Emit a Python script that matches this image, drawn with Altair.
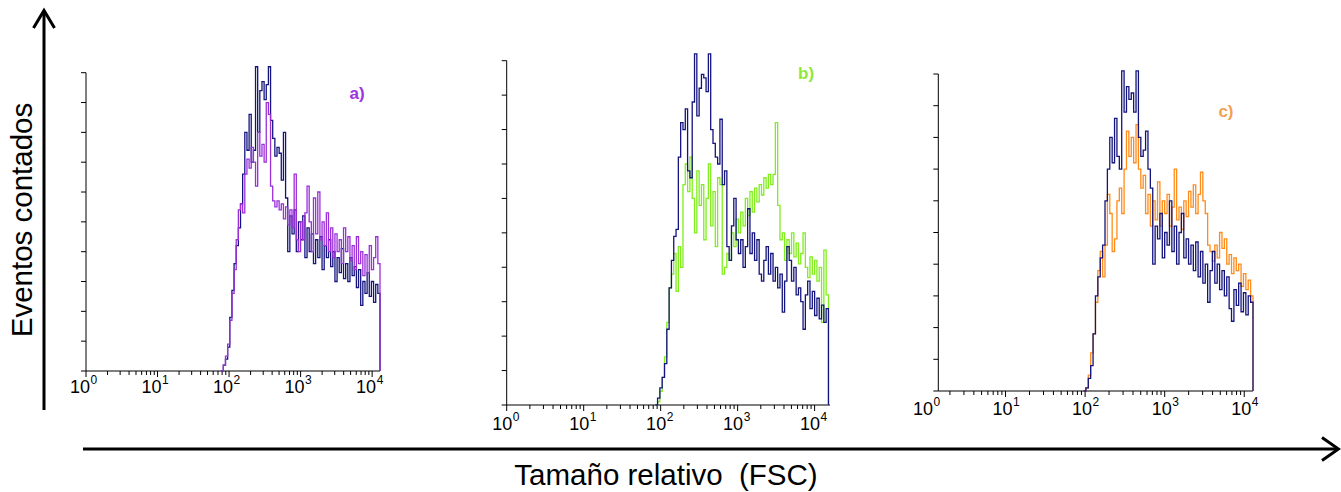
import altair as alt
import numpy as np
import pandas as pd

# Width of one histogram channel, in decades of FSC
BIN = 0.03

# a) control (navy) and treated (purple) counts, first channel at 10^1.89
a_first = 1.89
a_control = [0, 2, 4, 8, 18, 27, 36, 42, 48, 56,
             66, 80, 74, 86, 70, 74, 102, 80, 94, 97,
             91, 96, 102, 84, 78, 72, 75, 73, 64, 80,
             58, 40, 52, 46, 54, 40, 50, 44, 52, 38,
             48, 40, 46, 36, 44, 38, 45, 34, 42, 38,
             44, 35, 40, 30, 38, 33, 41, 31, 36, 30,
             38, 32, 35, 28, 34, 22, 30, 26, 33, 25,
             30, 23, 29, 26, 0]
a_treated = [0, 2, 5, 9, 17, 26, 34, 44, 54, 56,
             53, 66, 71, 68, 75, 70, 62, 80, 72, 76,
             70, 90, 86, 62, 57, 55, 57, 54, 56, 51,
             55, 49, 54, 48, 66, 44, 40, 50, 44, 53,
             62, 50, 40, 58, 46, 60, 44, 50, 42, 53,
             40, 48, 38, 46, 40, 44, 36, 48, 40, 45,
             37, 42, 34, 45, 36, 40, 32, 39, 33, 42,
             34, 38, 45, 36, 0]

# b) control (navy) and treated (green), first channel at 10^1.93
b_first = 1.93
b_control = [0, 2, 5, 8, 12, 22, 34, 42, 49, 51,
             72, 82, 80, 86, 68, 66, 88, 102, 84, 92,
             96, 95, 91, 102, 80, 76, 72, 70, 83, 64,
             68, 46, 42, 52, 60, 48, 44, 48, 40, 46,
             57, 44, 50, 42, 48, 38, 36, 42, 46, 38,
             44, 36, 40, 34, 38, 27, 36, 46, 42, 36,
             40, 32, 34, 30, 22, 32, 36, 28, 33, 26,
             31, 25, 29, 24, 28, 0]
b_treated = [0, 1, 4, 8, 14, 24, 34, 38, 44, 33,
             46, 40, 64, 70, 62, 72, 60, 50, 68, 58,
             64, 48, 60, 70, 52, 62, 46, 66, 64, 38,
             40, 44, 42, 50, 46, 54, 50, 56, 52, 60,
             55, 62, 56, 63, 59, 64, 61, 66, 63, 67,
             64, 67, 82, 58, 48, 50, 42, 48, 44, 50,
             43, 47, 41, 44, 50, 40, 37, 43, 38, 42,
             36, 40, 24, 45, 32, 0]

# c) control (navy) and treated (orange), first channel at 10^1.98
c_first = 1.98
c_control = [0, 1, 4, 8, 18, 30, 36, 42, 46, 60,
             70, 80, 72, 86, 74, 70, 101, 88, 96, 92,
             94, 88, 101, 80, 74, 76, 82, 70, 64, 40,
             52, 48, 56, 42, 50, 46, 60, 44, 52, 40,
             50, 56, 42, 48, 40, 46, 38, 47, 36, 44,
             34, 40, 28, 38, 44, 34, 40, 32, 38, 30,
             36, 26, 22, 32, 27, 34, 25, 31, 24, 30,
             28, 0]
c_treated = [0, 1, 5, 12, 18, 28, 38, 44, 36, 46,
             62, 56, 44, 48, 60, 64, 56, 70, 82, 74,
             80, 72, 84, 70, 64, 68, 56, 62, 52, 60,
             54, 66, 52, 60, 56, 62, 52, 58, 70, 54,
             58, 51, 60, 55, 63, 58, 65, 56, 62, 69,
             60, 56, 46, 44, 41, 46, 42, 50, 45, 48,
             40, 43, 37, 42, 38, 40, 33, 37, 32, 35,
             30, 0]

# Axis furniture
decades = [0, 1, 2, 3, 4]
exponents = ["0", "1", "2", "3", "4"]
count_ticks = list(range(0, 101, 10))
panel_tags = ["a)", "b)", "c)"]

W, H = 1341, 492
NAVY = "#14147e"
FONT = "Liberation Sans"

PANELS = [
    dict(tag=panel_tags[0], first=a_first, control=a_control, treated=a_treated,
         color="#9b30d8", tag_color="#9a35e0", x_lo=0.0, x_hi=4.11,
         x_px=[86, 380], y_px=[371, 72.7], tag_at=(3.79, 93),
         label_dy=22, label_dx=-3, treated_on_top=True),
    dict(tag=panel_tags[1], first=b_first, control=b_control, treated=b_treated,
         color="#80ee1e", tag_color="#8ee83a", x_lo=0.0, x_hi=4.2,
         x_px=[506.7, 830], y_px=[405, 60.7], tag_at=(3.89, 96),
         label_dy=25, label_dx=-1.5, treated_on_top=False),
    dict(tag=panel_tags[2], first=c_first, control=c_control, treated=c_treated,
         color="#ff8c1a", tag_color="#f5a050", x_lo=0.155, x_hi=4.11,
         x_px=[938.3, 1253], y_px=[391, 74], tag_at=(3.77, 88),
         label_dy=24, label_dx=0, treated_on_top=False),
]


def histogram_frame(first, counts):
    fsc = [10 ** (first + BIN * i) for i in range(len(counts))]
    return pd.DataFrame({"fsc": fsc, "count": counts})


def panel_layers(p):
    xs = alt.Scale(type="log", domain=[10 ** p["x_lo"], 10 ** p["x_hi"]], range=p["x_px"])
    ys = alt.Scale(type="linear", domain=[0, 100], range=p["y_px"], nice=False, zero=False)

    def X(f):
        return alt.X(f, type="quantitative", scale=xs, axis=None)

    def Y(f):
        return alt.Y(f, type="quantitative", scale=ys, axis=None)

    lo, hi = 10 ** p["x_lo"], 10 ** p["x_hi"]
    layers = []

    # axis lines
    layers.append(alt.Chart(pd.DataFrame({"fsc": [lo], "c0": [0], "c1": [100]}))
                  .mark_rule(color="black", strokeWidth=1)
                  .encode(x=X("fsc"), y=Y("c0"), y2=alt.Y2("c1")))
    layers.append(alt.Chart(pd.DataFrame({"f0": [lo], "f1": [hi], "c": [0]}))
                  .mark_rule(color="black", strokeWidth=1)
                  .encode(x=X("f0"), x2=alt.X2("f1"), y=Y("c")))
    # count ticks on the left
    layers.append(alt.Chart(pd.DataFrame({"fsc": [lo] * len(count_ticks), "c": count_ticks}))
                  .mark_rule(color="black", strokeWidth=1, x2Offset=-5)
                  .encode(x=X("fsc"), x2=alt.X2("fsc"), y=Y("c")))
    # log ticks below the axis
    major = [10 ** k for k in decades if lo <= 10 ** k <= hi]
    minor = [m * 10 ** k for k in decades for m in range(2, 10) if lo <= m * 10 ** k <= hi]
    layers.append(alt.Chart(pd.DataFrame({"fsc": major, "c": [0] * len(major)}))
                  .mark_rule(color="black", strokeWidth=1, y2Offset=6)
                  .encode(x=X("fsc"), y=Y("c"), y2=alt.Y2("c")))
    layers.append(alt.Chart(pd.DataFrame({"fsc": minor, "c": [0] * len(minor)}))
                  .mark_rule(color="black", strokeWidth=1, y2Offset=4)
                  .encode(x=X("fsc"), y=Y("c"), y2=alt.Y2("c")))
    # tick labels: 10 with a raised exponent
    lab = pd.DataFrame({"fsc": [10 ** k for k in decades], "c": [0] * len(decades),
                        "base": ["10"] * len(decades), "exp": exponents})
    layers.append(alt.Chart(lab).mark_text(font=FONT, fontSize=18, color="black",
                                           align="right", baseline="alphabetic",
                                           dx=7 + p["label_dx"], dy=p["label_dy"])
                  .encode(x=X("fsc"), y=Y("c"), text="base:N"))
    layers.append(alt.Chart(lab).mark_text(font=FONT, fontSize=12, color="black",
                                           align="left", baseline="alphabetic",
                                           dx=7.5 + p["label_dx"], dy=p["label_dy"] - 9)
                  .encode(x=X("fsc"), y=Y("c"), text="exp:N"))

    control = (alt.Chart(histogram_frame(p["first"], p["control"]))
               .mark_line(interpolate="step-after", color=NAVY, strokeWidth=1.3)
               .encode(x=X("fsc"), y=Y("count")))
    treated = (alt.Chart(histogram_frame(p["first"], p["treated"]))
               .mark_line(interpolate="step-after", color=p["color"], strokeWidth=1.3)
               .encode(x=X("fsc"), y=Y("count")))
    layers += [control, treated] if p["treated_on_top"] else [treated, control]

    tx, ty = p["tag_at"]
    layers.append(alt.Chart(pd.DataFrame({"fsc": [10 ** tx], "c": [ty], "t": [p["tag"]]}))
                  .mark_text(font=FONT, fontSize=17, fontWeight="bold", color=p["tag_color"])
                  .encode(x=X("fsc"), y=Y("c"), text="t:N"))
    return layers


# Figure-level arrows and titles, in figure units
fx = alt.Scale(domain=[0, W], range=[0, W], nice=False, zero=False)
fy = alt.Scale(domain=[0, H], range=[0, H], nice=False, zero=False)


def FX(f):
    return alt.X(f, type="quantitative", scale=fx, axis=None)


def FY(f):
    return alt.Y(f, type="quantitative", scale=fy, axis=None)


shafts = pd.DataFrame({"x": [44, 83], "y": [410, 449], "x2": [44, 1336], "y2": [12, 449]})
heads = pd.DataFrame({
    "arrow": ["up"] * 3 + ["right"] * 3,
    "k": [0, 1, 2, 0, 1, 2],
    "x": [33.5, 44, 54.5, 1322, 1338.5, 1322],
    "y": [28, 10.5, 28, 437.5, 449, 460.5],
})
titles = pd.DataFrame({
    "x": [23, 666], "y": [220, 476],
    "t": ["Eventos contados", "Tamaño relativo \u00a0(FSC)"],
    "angle": [270, 0],
})

frame_layers = [
    alt.Chart(shafts).mark_rule(color="black", strokeWidth=3)
    .encode(x=FX("x"), y=FY("y"), x2=alt.X2("x2"), y2=alt.Y2("y2")),
    alt.Chart(heads).mark_line(color="black", strokeWidth=3, strokeJoin="miter")
    .encode(x=FX("x"), y=FY("y"), detail="arrow:N", order="k:Q"),
    alt.Chart(titles.iloc[[0]]).mark_text(font=FONT, fontSize=29.5, color="black", angle=270)
    .encode(x=FX("x"), y=FY("y"), text="t:N"),
    alt.Chart(titles.iloc[[1]]).mark_text(font=FONT, fontSize=29.5, color="black")
    .encode(x=FX("x"), y=FY("y"), text="t:N"),
]

layers = []
for p in PANELS:
    layers += panel_layers(p)
layers += frame_layers

chart = (alt.layer(*layers)
         .resolve_scale(x="independent", y="independent")
         .properties(width=W, height=H, padding=0, autosize="none", background="white")
         .configure_view(stroke=None))

chart.save("out.html", embed_options={"renderer": "svg", "actions": False})
